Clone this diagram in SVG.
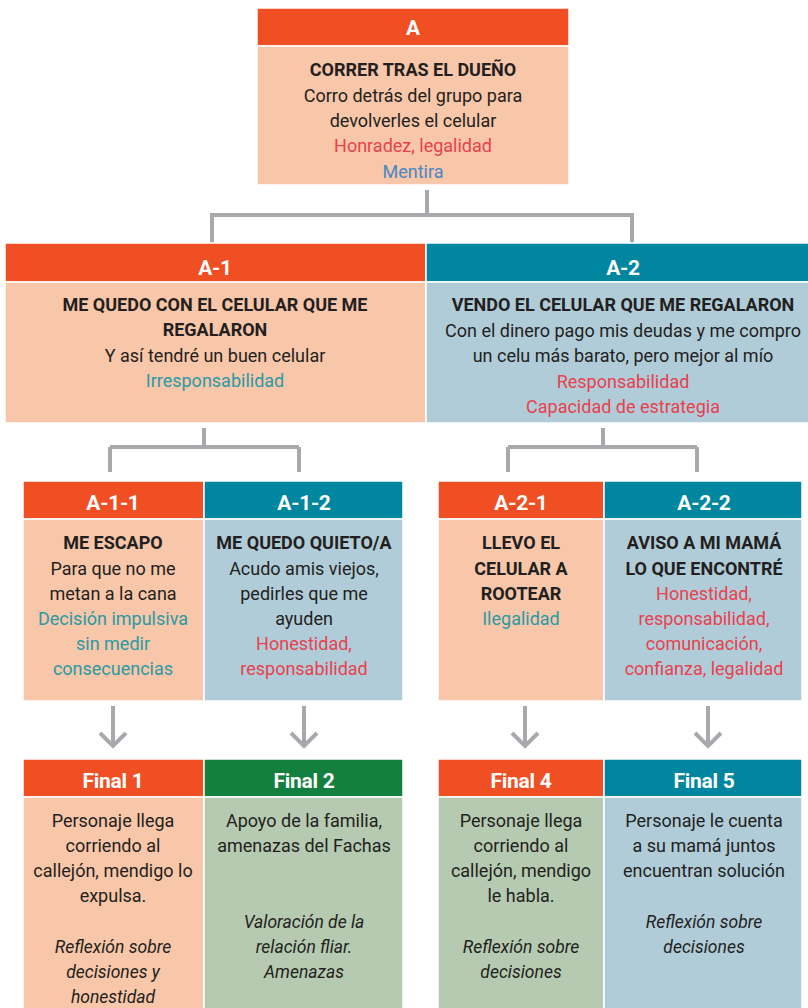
<svg xmlns="http://www.w3.org/2000/svg" width="808" height="1008" viewBox="0 0 808 1008">
<style>
.hd-o{fill:#f04e23}
.hd-t{fill:#00879f}
.hd-g{fill:#14803f}
.bd-o{fill:#f8c6a8}
.bd-b{fill:#b0ccd8}
.bd-g{fill:#b5cab0}
rect{stroke:#ffffff;stroke-width:1.5}
text{font-family:Roboto,"Liberation Sans",sans-serif;text-anchor:middle;font-size:18px;fill:#231f20}
.h{font-weight:bold;font-size:21px;fill:#ffffff;letter-spacing:-0.3px}
.t{font-weight:bold;font-size:18px}
.r{fill:#e8414e}
.bl{fill:#4a86c5}
.tl{fill:#2a9aa6}
.i{font-style:italic;font-size:17.5px}
.c{fill:none;stroke:#a7a9ac;stroke-width:4}
</style>
<rect x="0" y="0" width="808" height="1008" fill="#ffffff" stroke="none"/>
<g id="connectors">
<path class="c" d="M427 190V215M210 215H634M212 215V243M632 215V243"/>
<path class="c" d="M204 428V447M110 447H299M110 447V472M299 447V472"/>
<path class="c" d="M603 428V447M508 447H697M508 447V472M697 447V472"/>
<path class="c" d="M113 706V745M100 733L113 746L126 733"/>
<path class="c" d="M304 706V745M291 733L304 746L317 733"/>
<path class="c" d="M525 706V745M512 733L525 746L538 733"/>
<path class="c" d="M708 706V745M695 733L708 746L721 733"/>
</g>
<g id="A">
<rect class="hd-o" x="257" y="8" width="312" height="38"/>
<rect class="bd-o" x="257" y="46" width="312" height="139"/>
<text class="h" x="413" y="35">A</text>
<text class="t" x="413" y="76">CORRER TRAS EL DUEÑO</text>
<text x="413" y="102">Corro detrás del grupo para</text>
<text x="413" y="127">devolverles el celular</text>
<text class="r" x="413" y="152">Honradez, legalidad</text>
<text class="bl" x="413" y="178">Mentira</text>
</g>
<g id="A-1">
<rect class="hd-o" x="5" y="243" width="421" height="39"/>
<rect class="bd-o" x="5" y="282" width="421" height="141"/>
<text class="h" x="215" y="275">A-1</text>
<text class="t" x="215" y="311">ME QUEDO CON EL CELULAR QUE ME</text>
<text class="t" x="215" y="336">REGALARON</text>
<text x="215" y="362">Y así tendré un buen celular</text>
<text class="tl" x="215" y="387">Irresponsabilidad</text>
</g>
<g id="A-2">
<rect class="hd-t" x="426" y="243" width="384" height="39"/>
<rect class="bd-b" x="426" y="282" width="384" height="141"/>
<text class="h" x="623" y="275">A-2</text>
<text class="t" x="623" y="311">VENDO EL CELULAR QUE ME REGALARON</text>
<text x="623" y="337">Con el dinero pago mis deudas y me compro</text>
<text x="623" y="362">un celu más barato, pero mejor al mío</text>
<text class="r" x="623" y="388">Responsabilidad</text>
<text class="r" x="623" y="413">Capacidad de estrategia</text>
</g>
<g id="A-1-1">
<rect class="hd-o" x="23" y="481" width="181" height="38"/>
<rect class="bd-o" x="23" y="519" width="181" height="182"/>
<text class="h" x="113" y="510">A-1-1</text>
<text class="t" x="113" y="549">ME ESCAPO</text>
<text x="113" y="575">Para que no me</text>
<text x="113" y="600">metan a la cana</text>
<text class="tl" x="113" y="625">Decisión impulsiva</text>
<text class="tl" x="113" y="650">sin medir</text>
<text class="tl" x="113" y="675">consecuencias</text>
</g>
<g id="A-1-2">
<rect class="hd-t" x="204" y="481" width="199" height="38"/>
<rect class="bd-b" x="204" y="519" width="199" height="182"/>
<text class="h" x="304" y="510">A-1-2</text>
<text class="t" x="304" y="549">ME QUEDO QUIETO/A</text>
<text x="304" y="575">Acudo amis viejos,</text>
<text x="304" y="600">pedirles que me</text>
<text x="304" y="625">ayuden</text>
<text class="r" x="304" y="650">Honestidad,</text>
<text class="r" x="304" y="675">responsabilidad</text>
</g>
<g id="A-2-1">
<rect class="hd-o" x="438" y="481" width="166" height="38"/>
<rect class="bd-o" x="438" y="519" width="166" height="182"/>
<text class="h" x="521" y="510">A-2-1</text>
<text class="t" x="521" y="549">LLEVO EL</text>
<text class="t" x="521" y="575">CELULAR A</text>
<text class="t" x="521" y="600">ROOTEAR</text>
<text class="tl" x="521" y="625">Ilegalidad</text>
</g>
<g id="A-2-2">
<rect class="hd-t" x="604" y="481" width="198" height="38"/>
<rect class="bd-b" x="604" y="519" width="198" height="182"/>
<text class="h" x="704" y="510">A-2-2</text>
<text class="t" x="704" y="549">AVISO A MI MAMÁ</text>
<text class="t" x="704" y="575">LO QUE ENCONTRÉ</text>
<text class="r" x="704" y="600">Honestidad,</text>
<text class="r" x="704" y="625">responsabilidad,</text>
<text class="r" x="704" y="650">comunicación,</text>
<text class="r" x="704" y="675">confianza, legalidad</text>
</g>
<g id="Final-1">
<rect class="hd-o" x="23" y="759" width="181" height="38"/>
<rect class="bd-o" x="23" y="797" width="181" height="215"/>
<text class="h" x="113" y="788">Final 1</text>
<text x="113" y="827">Personaje llega</text>
<text x="113" y="852">corriendo al</text>
<text x="113" y="877">callejón, mendigo lo</text>
<text x="113" y="902">expulsa.</text>
<text class="i" x="113" y="953">Reflexión sobre</text>
<text class="i" x="113" y="978">decisiones y</text>
<text class="i" x="113" y="1003">honestidad</text>
</g>
<g id="Final-2">
<rect class="hd-g" x="204" y="759" width="199" height="38"/>
<rect class="bd-g" x="204" y="797" width="199" height="215"/>
<text class="h" x="304" y="788">Final 2</text>
<text x="304" y="827">Apoyo de la familia,</text>
<text x="304" y="852">amenazas del Fachas</text>
<text class="i" x="304" y="928">Valoración de la</text>
<text class="i" x="304" y="953">relación fliar.</text>
<text class="i" x="304" y="978">Amenazas</text>
</g>
<g id="Final-4">
<rect class="hd-o" x="438" y="759" width="166" height="38"/>
<rect class="bd-g" x="438" y="797" width="166" height="215"/>
<text class="h" x="521" y="788">Final 4</text>
<text x="521" y="827">Personaje llega</text>
<text x="521" y="852">corriendo al</text>
<text x="521" y="877">callejón, mendigo</text>
<text x="521" y="902">le habla.</text>
<text class="i" x="521" y="953">Reflexión sobre</text>
<text class="i" x="521" y="978">decisiones</text>
</g>
<g id="Final-5">
<rect class="hd-t" x="604" y="759" width="198" height="38"/>
<rect class="bd-b" x="604" y="797" width="198" height="215"/>
<text class="h" x="704" y="788">Final 5</text>
<text x="704" y="827">Personaje le cuenta</text>
<text x="704" y="852">a su mamá juntos</text>
<text x="704" y="877">encuentran solución</text>
<text class="i" x="704" y="928">Reflexión sobre</text>
<text class="i" x="704" y="953">decisiones</text>
</g>
</svg>
